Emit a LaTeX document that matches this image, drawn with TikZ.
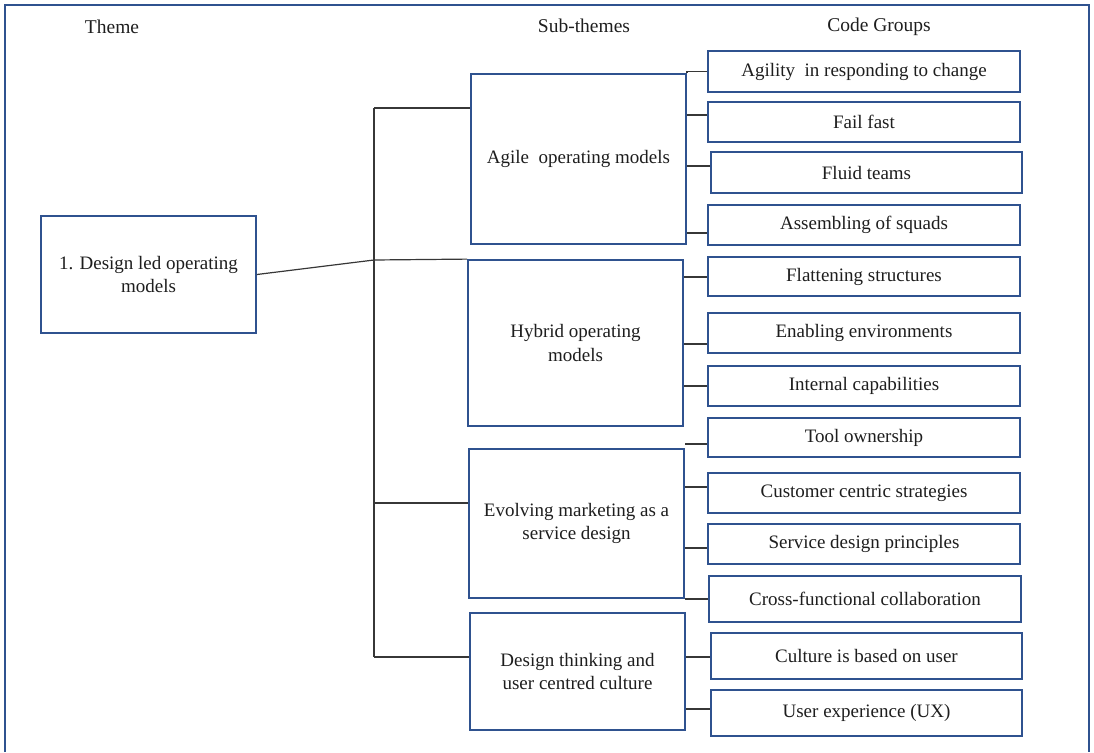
\documentclass[tikz,border=0pt]{standalone}
\usepackage{fontspec}
\setmainfont{Liberation Serif}
\definecolor{boxblue}{RGB}{47,82,143}
\definecolor{linkgray}{RGB}{55,55,55}
\definecolor{ink}{RGB}{30,30,30}
\begin{document}
\begin{tikzpicture}[x=1pt,y=-1pt,
  box/.style={draw=boxblue, line width=1.8pt, fill=white, text=ink, align=center,
              inner sep=2pt, font=\fontsize{19}{23.5}\selectfont},
  theme/.style={box, minimum width=215pt},
  code/.style={box, minimum width=312pt, minimum height=40pt},
  link/.style={draw=linkgray, line width=1.2pt},
  head/.style={text=ink, font=\fontsize{19.5}{23}\selectfont},
  frame/.style={draw=boxblue, line width=1.8pt}]
\useasboundingbox (0,0) rectangle (1094,752);

% outer frame (open at the bottom)
\draw[frame] (5,752) -- (5,5) -- (1089,5) -- (1089,752);

% column headings
\node[head] (hTheme) at (112,27) {Theme};
\node[head] (hSub)   at (584,26) {Sub-themes};
\node[head] (hCode)  at (879,27) {Code Groups};

% theme
\node[theme, minimum height=117pt] (theme) at (148.5,274.5) {1. Design led operating\\models};

% sub-themes
\node[theme, minimum height=170pt] (agile)    at (578.5,159)   {Agile\ \ operating models};
\node[theme, minimum height=166pt] (hybrid)   at (575.5,343)   {Hybrid operating\\models};
\node[theme, minimum height=149pt] (evolving) at (576.5,523.5) {Evolving marketing as a\\service design};
\node[theme, minimum height=117pt] (design)   at (577.5,671.5) {Design thinking and\\user centred culture};

% code groups
\node[code, minimum height=41pt] (agility)    at (864,71.5)   {Agility\ \ in responding to change};
\node[code]                      (fail)       at (864,122)    {Fail fast};
\node[code, minimum width=311pt, minimum height=41pt] (fluid) at (866.5,172.5) {Fluid teams};
\node[code]                      (assembling) at (864,225)    {Assembling of squads};
\node[code, minimum height=39pt] (flattening) at (864,276.5)  {Flattening structures};
\node[code]                      (enabling)   at (864,333)    {Enabling environments};
\node[code]                      (internal)   at (864,386)    {Internal capabilities};
\node[code, minimum height=39pt] (tool)       at (864,437.5)  {Tool ownership};
\node[code]                      (customer)   at (864,493)    {Customer centric strategies};
\node[code]                      (service)    at (864,544)    {Service design principles};
\node[code, minimum height=46pt] (cross)      at (865,599)    {Cross-functional collaboration};
\node[code, minimum width=311pt, minimum height=46pt] (culture) at (866.5,656) {Culture is based on user};
\node[code, minimum width=311pt, minimum height=46pt] (ux)      at (866.5,713) {User experience (UX)};

% theme to sub-themes
\coordinate (junction) at (374,260);
\coordinate (trunkTop) at (374,108);
\coordinate (trunkEvo) at (374,503);
\coordinate (trunkBot) at (374,657);
\draw[link] (theme.east) -- (junction) -- (hybrid.north west);
\draw[link] (trunkTop) -- (trunkBot);
\draw[link] (trunkTop) -- (trunkTop -| agile.west);
\draw[link] (trunkEvo) -- (trunkEvo -| evolving.west);
\draw[link] (trunkBot) -- (trunkBot -| design.west);

% agile operating models
\draw[link] (agile.north east) |- (agility.west);
\draw[link] (agile.east |- 0,115) -- (fail.west |- 0,115);
\draw[link] (agile.east |- 0,166) -- (fluid.west |- 0,166);
\draw[link] (agile.east |- 0,233) -- (assembling.west |- 0,233);

% hybrid operating models
\draw[link] (hybrid.east |- 0,277) -- (flattening.west |- 0,277);
\draw[link] (hybrid.east |- 0,344) -- (enabling.west |- 0,344);
\draw[link] (hybrid.east |- 0,386) -- (internal.west |- 0,386);

% tool ownership
\coordinate (toolEnd) at (685,444);
\draw[link] (toolEnd) -- (tool.west |- toolEnd);

% evolving marketing
\draw[link] (evolving.east |- 0,487) -- (customer.west |- 0,487);
\draw[link] (evolving.east |- 0,548) -- (service.west |- 0,548);
\draw[link] (evolving.east |- 0,599) -- (cross.west |- 0,599);

% design thinking
\draw[link] (design.east |- 0,657) -- (culture.west |- 0,657);
\draw[link] (design.east |- 0,709) -- (ux.west |- 0,709);
\end{tikzpicture}
\end{document}
